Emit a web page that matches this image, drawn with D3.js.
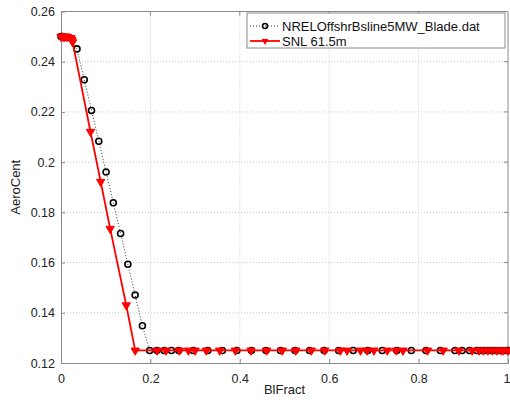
<!DOCTYPE html>
<html><head><meta charset="utf-8">
<script src="https://cdn.jsdelivr.net/npm/d3@7"></script>
<style>body{margin:0;background:#fff}svg{display:block}text{font-family:"Liberation Sans",Arial,sans-serif}</style>
</head><body><svg id="c" width="510" height="402"></svg>
<script>
// NRELOffshrBsline5MW_Blade.dat
const nrelFract = [0,0.00325,0.01951,0.03577,0.05203,0.06829,0.08455,0.10081,0.11707,0.13335,0.14959,0.16585,0.18211,0.19837,0.21465,0.23089,0.24715,0.26341,0.29595,0.32846,0.36098,0.39350,0.42602,0.45855,0.49106,0.52358,0.55610,0.58862,0.62115,0.65366,0.68618,0.71870,0.75122,0.78376,0.81626,0.84878,0.88130,0.89756,0.91382,0.93008,0.93821,0.94636,0.95447,0.96260,0.97073,0.97886,0.98699,0.99512,1.0];
const nrelCent  = [0.25,0.25,0.24951,0.24510,0.23284,0.22059,0.20833,0.19608,0.18382,0.17156,0.15931,0.14706,0.13481,0.125,0.125,0.125,0.125,0.125,0.125,0.125,0.125,0.125,0.125,0.125,0.125,0.125,0.125,0.125,0.125,0.125,0.125,0.125,0.125,0.125,0.125,0.125,0.125,0.125,0.125,0.125,0.125,0.125,0.125,0.125,0.125,0.125,0.125,0.125,0.125];
// SNL 61.5m
const snlFract = [0,0.005,0.0065,0.008,0.0114,0.013,0.0222,0.0244,0.026,0.066,0.0888,0.110,0.146,0.166,0.215,0.235,0.265,0.285,0.30,0.325,0.355,0.39,0.425,0.46,0.495,0.525,0.56,0.59,0.625,0.64,0.67,0.685,0.70,0.73,0.75,0.765,0.82,0.855,0.89,0.92,0.935,0.945,0.955,0.965,0.975,0.985,0.99,1.0];
const snlCent  = [0.25,0.25,0.25,0.25,0.25,0.25,0.2495,0.2487,0.2478,0.2121,0.1922,0.1735,0.1430,0.125,0.125,0.125,0.125,0.125,0.125,0.125,0.125,0.125,0.125,0.125,0.125,0.125,0.125,0.125,0.125,0.125,0.125,0.125,0.125,0.125,0.125,0.125,0.125,0.125,0.125,0.125,0.125,0.125,0.125,0.125,0.125,0.125,0.125,0.125];
const xTicks = [0,0.2,0.4,0.6,0.8,1];
const xTickLabels = ["0","0.2","0.4","0.6","0.8","1"];
const yTicks = [0.12,0.14,0.16,0.18,0.2,0.22,0.24,0.26];
const yTickLabels = ["0.12","0.14","0.16","0.18","0.2","0.22","0.24","0.26"];
const seriesNames = ["NRELOffshrBsline5MW_Blade.dat","SNL 61.5m"];

const L=61,R=508,T=11.5,B=363;
const svg=d3.select("#c");
const x=d3.scaleLinear().domain([0,1]).range([L,R]);
const y=d3.scaleLinear().domain([0.12,0.26]).range([B,T]);

// grid
const g=svg.append("g");
g.selectAll(".gx").data(xTicks.slice(1,-1)).enter().append("line")
 .attr("x1",d=>x(d)).attr("x2",d=>x(d)).attr("y1",T).attr("y2",B)
 .attr("stroke","#c8c8c8").attr("stroke-dasharray","1,2").attr("stroke-width",1);
g.selectAll(".gy").data(yTicks.slice(1,-1)).enter().append("line")
 .attr("x1",L).attr("x2",R).attr("y1",d=>y(d)).attr("y2",d=>y(d))
 .attr("stroke","#c8c8c8").attr("stroke-dasharray","1,2").attr("stroke-width",1);

// axes
const ax=svg.append("g").attr("transform",`translate(0,${B})`)
 .call(d3.axisBottom(x).tickValues(xTicks).tickFormat((d,i)=>xTickLabels[i]).tickSizeInner(-4).tickSizeOuter(0).tickPadding(8));
const ay=svg.append("g").attr("transform",`translate(${L},0)`)
 .call(d3.axisLeft(y).tickValues(yTicks).tickFormat((d,i)=>yTickLabels[i]).tickSizeInner(-4).tickSizeOuter(0).tickPadding(6));
[ax,ay].forEach(a=>{a.select(".domain").attr("stroke","#8a8a8a");a.selectAll(".tick line").attr("stroke","#8a8a8a");
 a.selectAll("text").attr("font-size",12.5).attr("fill","#222").attr("font-family","Liberation Sans, Arial, sans-serif");});
ax.selectAll("text").attr("dy","0.95em");
ax.selectAll(".tick").filter(d=>d===1).select("text").attr("text-anchor","end").attr("dx",2);
// top and right frame
svg.append("line").attr("x1",L).attr("x2",R).attr("y1",T).attr("y2",T).attr("stroke","#8a8a8a");
svg.append("line").attr("x1",R).attr("x2",R).attr("y1",T).attr("y2",B).attr("stroke","#8a8a8a");
svg.selectAll(".tt").data(xTicks.slice(1,-1)).enter().append("line").attr("x1",d=>x(d)).attr("x2",d=>x(d)).attr("y1",T).attr("y2",T+4).attr("stroke","#8a8a8a");
svg.selectAll(".tr").data(yTicks.slice(1,-1)).enter().append("line").attr("x1",R-4).attr("x2",R).attr("y1",d=>y(d)).attr("y2",d=>y(d)).attr("stroke","#8a8a8a");

// labels
svg.append("text").attr("x",(L+R)/2).attr("y",394).attr("text-anchor","middle").attr("font-size",13).attr("fill","#222").text("BlFract");
svg.append("text").attr("transform",`translate(20,${(T+B)/2}) rotate(-90)`).attr("text-anchor","middle").attr("font-size",13).attr("fill","#222").text("AeroCent");

const nrel=nrelFract.map((f,i)=>[f,nrelCent[i]]);
const snl=snlFract.map((f,i)=>[f,snlCent[i]]);
const line=d3.line().x(d=>x(d[0])).y(d=>y(d[1]));
const tri=d3.symbol().type(d3.symbolTriangle).size(30);

// NREL dotted black with circles
svg.append("path").attr("d",line(nrel)).attr("fill","none").attr("stroke","#333").attr("stroke-width",1).attr("stroke-dasharray","1,2");
svg.selectAll(".c").data(nrel).enter().append("circle").attr("cx",d=>x(d[0])).attr("cy",d=>y(d[1])).attr("r",3)
 .attr("fill","none").attr("stroke","#000").attr("stroke-width",1.6);
// SNL red
svg.append("path").attr("d",line(snl)).attr("fill","none").attr("stroke","#f00").attr("stroke-width",1.8);
svg.selectAll(".t").data(snl).enter().append("path").attr("d",tri)
 .attr("transform",d=>`translate(${x(d[0])},${y(d[1])}) rotate(180)`).attr("fill","#f00").attr("stroke","#f00").attr("stroke-width",1);

// legend
const lg=svg.append("g");
lg.append("rect").attr("x",247).attr("y",13).attr("width",258).attr("height",35).attr("fill","#fff").attr("stroke","#8a8a8a").attr("stroke-width",1);
lg.append("line").attr("x1",250).attr("x2",280).attr("y1",26).attr("y2",26).attr("stroke","#333").attr("stroke-dasharray","1,2");
lg.append("circle").attr("cx",265).attr("cy",26).attr("r",2.5).attr("fill","none").attr("stroke","#000").attr("stroke-width",1.5);
lg.append("line").attr("x1",250).attr("x2",280).attr("y1",41).attr("y2",41).attr("stroke","#f00").attr("stroke-width",1.8);
lg.append("path").attr("d",d3.symbol().type(d3.symbolTriangle).size(20)).attr("transform","translate(265,41) rotate(180)").attr("fill","#f00");
lg.selectAll(".lt").data(seriesNames).enter().append("text").attr("x",282).attr("y",(d,i)=>30.5+i*15)
 .attr("font-size",13).attr("fill","#111").text(d=>d);
</script></body></html>
